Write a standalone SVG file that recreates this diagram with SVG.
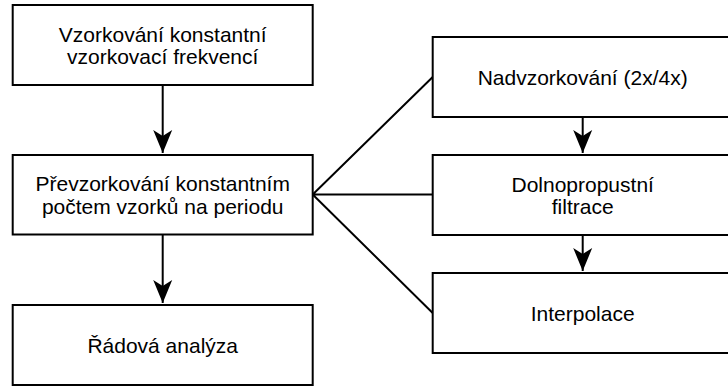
<svg xmlns="http://www.w3.org/2000/svg" width="728" height="388" viewBox="0 0 728 388">
<style>
.box{fill:#fff;stroke:#000;stroke-width:2}
.t{font-family:"Liberation Sans",Arial,sans-serif;font-size:21px;fill:#000;text-anchor:middle}
.c{fill:none;stroke:#000;stroke-width:2}
</style>
<defs>
<marker id="ah" markerUnits="userSpaceOnUse" markerWidth="26" markerHeight="22" viewBox="0 -11 26 22" refX="23" refY="0" orient="auto">
<path d="M0,-9.5 L23,0 L0,9.5 L6,0 Z" fill="#000"/>
</marker>
</defs>
<rect width="728" height="388" fill="#fff"/>
<g id="connectors">
<path class="c" d="M162.7,85 V153" marker-end="url(#ah)"/>
<path class="c" d="M162.7,234.5 V303" marker-end="url(#ah)"/>
<path class="c" d="M582.7,117 V153" marker-end="url(#ah)"/>
<path class="c" d="M582.7,235 V271" marker-end="url(#ah)"/>
<path class="c" d="M432.7,77 L312.7,194.5 L432.7,194.5 M312.7,194.5 L432.7,313"/>
</g>
<g id="n1"><rect class="box" x="12.7" y="5" width="300" height="80"/>
<text class="t" x="162.7" y="41.5">Vzorkování konstantní</text>
<text class="t" x="162.7" y="64.2">vzorkovací frekvencí</text></g>
<g id="n2"><rect class="box" x="12.7" y="155" width="300" height="79.5"/>
<text class="t" x="162.7" y="191">Převzorkování konstantním</text>
<text class="t" x="162.7" y="213.7">počtem vzorků na periodu</text></g>
<g id="n3"><rect class="box" x="12.7" y="305" width="300" height="80"/>
<text class="t" x="162.7" y="352.7">Řádová analýza</text></g>
<g id="n4"><rect class="box" x="432.7" y="37" width="300" height="80"/>
<text class="t" x="582.7" y="84.6">Nadvzorkování (2x/4x)</text></g>
<g id="n5"><rect class="box" x="432.7" y="155" width="300" height="80"/>
<text class="t" x="582.7" y="191.5">Dolnopropustní</text>
<text class="t" x="582.7" y="214.2">filtrace</text></g>
<g id="n6"><rect class="box" x="432.7" y="273" width="300" height="80"/>
<text class="t" x="582.7" y="320.6">Interpolace</text></g>
</svg>
